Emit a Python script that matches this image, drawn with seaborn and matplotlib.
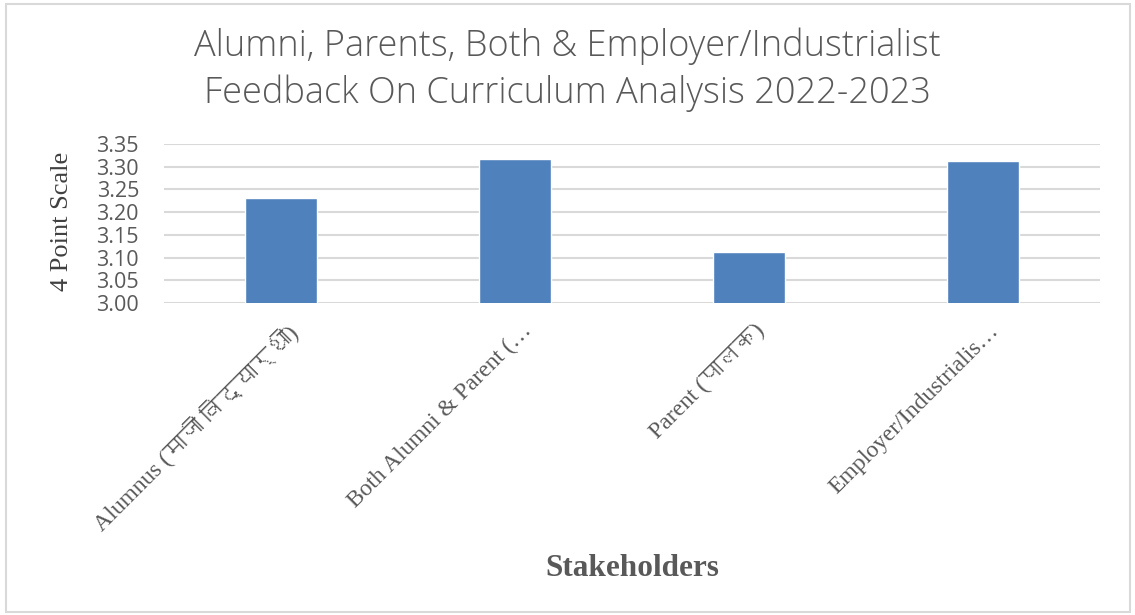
import matplotlib
matplotlib.use("Agg")
import matplotlib.pyplot as plt
import matplotlib.font_manager as fm
from matplotlib.ft2font import FT2Font
from matplotlib.patches import Rectangle
from matplotlib.transforms import ScaledTranslation
import seaborn as sns
import pandas as pd

# data
stakeholders = [
    "Alumnus (माजी विद्यार्थी)",
    "Both Alumni & Parent (…",
    "Parent (पालक)",
    "Employer/Industrialis…",
]
scores = [3.232, 3.318, 3.113, 3.312]
y_ticks = [3.00, 3.05, 3.10, 3.15, 3.20, 3.25, 3.30, 3.35]


def find_devanagari_font():
    # look for any installed font that has Devanagari glyphs
    for f in fm.fontManager.ttflist:
        try:
            cmap = FT2Font(f.fname).get_charmap()
        except Exception:
            continue
        if 0x092E in cmap and 0x0932 in cmap:
            return f.name
    return None


deva = find_devanagari_font()
serif_fams = ["Liberation Serif"] + ([deva] if deva else []) + ["DejaVu Sans"]

df = pd.DataFrame({"Stakeholder": stakeholders, "Score": scores})

sns.set_style("white")
fig = plt.figure(figsize=(11.35, 6.15), dpi=100)
ax = fig.add_axes([164 / 1135, 1 - 303 / 615, 936 / 1135, 159 / 615])

sns.barplot(data=df, x="Stakeholder", y="Score", color="#4F81BD",
            width=0.31, saturation=1, ax=ax, zorder=3)

ax.set_ylim(3.0, 3.35)
ax.set_xlim(-0.5, 3.5)
ax.set_yticks(y_ticks)
ax.set_yticklabels([f"{v:.2f}" for v in y_ticks], fontsize=15.5,
                   color="#595959", family=["Open Sans", "DejaVu Sans"])
ax.yaxis.grid(True, color="#D9D9D9", linewidth=1.5, zorder=0)
ax.xaxis.grid(False)
for s in ax.spines.values():
    s.set_visible(False)
ax.tick_params(axis="both", length=0)
ax.tick_params(axis="y", pad=18)
ax.tick_params(axis="x", pad=18)

for lbl in ax.get_xticklabels():
    lbl.set_rotation(45)
    lbl.set_ha("right")
    lbl.set_va("center")
    lbl.set_rotation_mode("anchor")
    lbl.set_fontsize(17)
    lbl.set_color("#595959")
    lbl.set_family(serif_fams)
    lbl.set_transform(lbl.get_transform() + ScaledTranslation(0.13, 0, fig.dpi_scale_trans))

ax.set_xlabel("")
ax.set_ylabel("")
fig.text(632 / 1135, 1 - 568 / 615, "Stakeholders", ha="center", va="center",
         fontsize=22.5, fontweight="bold", color="#595959", family="Liberation Serif")
fig.text(62 / 1135, 1 - 221 / 615, "4 Point Scale", ha="center", va="center",
         rotation=90, fontsize=19, color="#404040", family="Liberation Serif")

fig.text(567 / 1135, 1 - 70 / 615,
         "Alumni, Parents, Both & Employer/Industrialist\nFeedback On Curriculum Analysis 2022-2023",
         ha="center", va="center", fontsize=26, color="#595959",
         family="Open Sans", fontweight="light", linespacing=1.32)

# light frame around the whole chart
fig.patches.append(Rectangle((6 / 1135, 3 / 615), 1124 / 1135, 608 / 615,
                             transform=fig.transFigure, fill=False,
                             edgecolor="#D9D9D9", linewidth=1.5))

fig.savefig("out.png", dpi=100)
